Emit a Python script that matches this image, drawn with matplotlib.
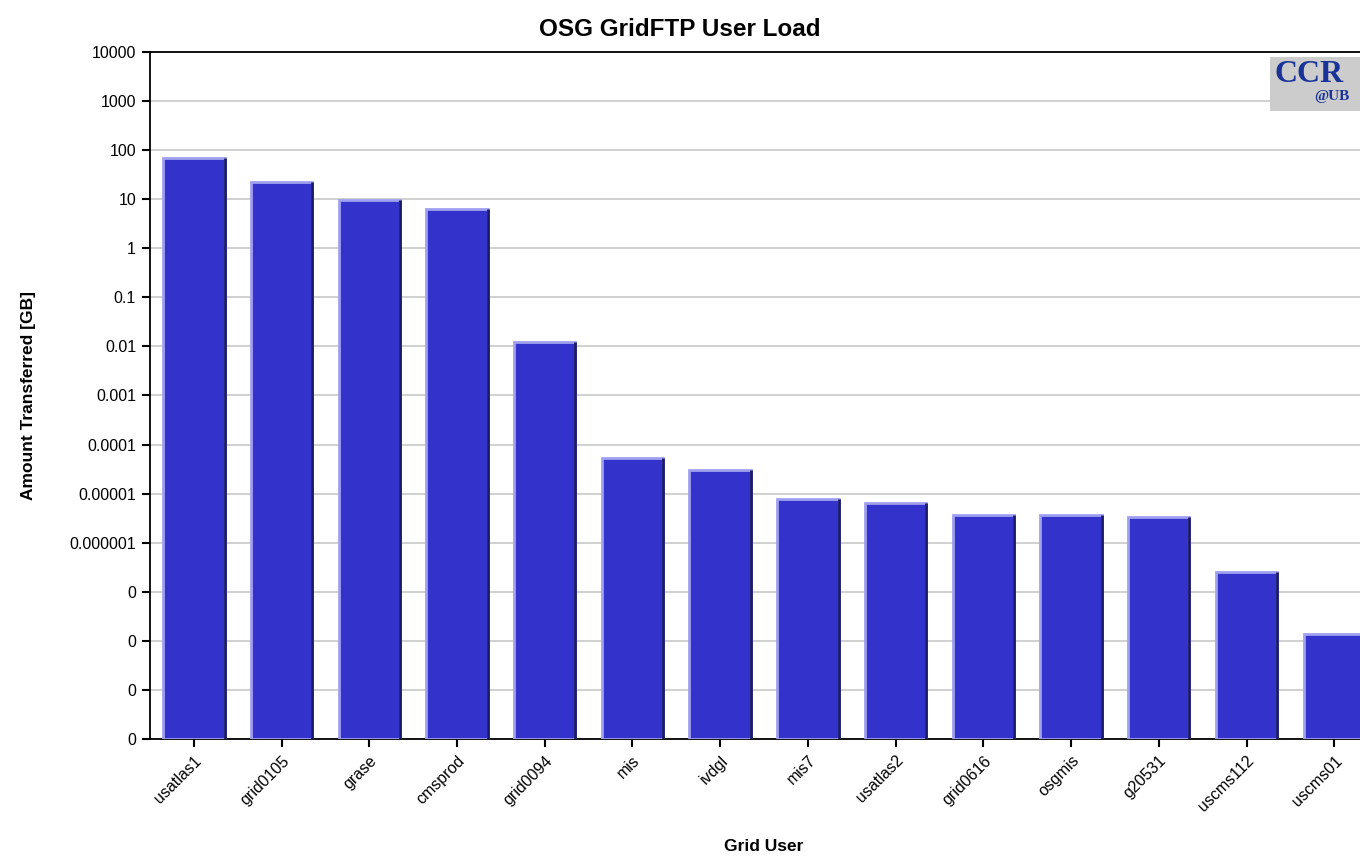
import matplotlib
matplotlib.use("Agg")
import matplotlib.pyplot as plt
import numpy as np

# data
users = ["usatlas1", "grid0105", "grase", "cmsprod", "grid0094", "mis", "ivdgl",
         "mis7", "usatlas2", "grid0616", "osgmis", "g20531", "uscms112", "uscms01"]
amount_gb = [69, 22, 9.6, 6.3, 0.0123, 5.3e-5, 3.0e-5,
             7.8e-6, 6.4e-6, 3.6e-6, 3.6e-6, 3.3e-6, 2.5e-7, 1.4e-8]
ytick_values = [1e4, 1e3, 1e2, 1e1, 1, 0.1, 0.01, 0.001, 1e-4, 1e-5, 1e-6, 1e-7, 1e-8, 1e-9, 1e-10]
ytick_labels = ["10000", "1000", "100", "10", "1", "0.1", "0.01", "0.001", "0.0001",
                "0.00001", "0.000001", "0", "0", "0", "0"]

plt.rcParams['font.family'] = ['Liberation Sans', 'DejaVu Sans']

fig = plt.figure(figsize=(13.6, 8.58), dpi=100)
ax = fig.add_axes([0.1103, 0.1387, 0.903, 0.8007])

x = np.arange(len(users))
width = 0.7
bottom = 1e-10
heights = [v - bottom for v in amount_gb]

ax.bar(x, heights, width=width, bottom=bottom, color="#3333cc",
       edgecolor="#a0a0f0", linewidth=2, zorder=3)
# dark shading on right side of each bar
ax.vlines(x + width / 2, bottom, amount_gb, color="#1a1a66", linewidth=2, zorder=4)

ax.set_yscale("log")
ax.set_ylim(1e-10, 1e4)
ax.set_xlim(-0.5, len(users) - 0.5)
ax.yaxis.set_major_locator(matplotlib.ticker.FixedLocator(ytick_values))
ax.yaxis.set_minor_locator(matplotlib.ticker.NullLocator())
ax.set_yticks(ytick_values)
ax.set_yticklabels(ytick_labels, fontsize=11.5)
ax.set_xticks(x)
ax.set_xticklabels(users, rotation=45, ha="right", rotation_mode="anchor", fontsize=11.5)
ax.tick_params(axis="both", length=6, width=1.5, color="black", pad=4)

ax.grid(axis="y", color="#c8c8c8", linewidth=1.2, zorder=0)
for side in ["left", "top", "bottom"]:
    ax.spines[side].set_linewidth(1.3)
ax.spines["right"].set_visible(False)

ax.set_ylabel("Amount Transferred [GB]", fontsize=12.5, fontweight="bold", labelpad=24)
ax.set_xlabel("Grid User", fontsize=12.5, fontweight="bold", labelpad=18)
fig.text(0.5, 0.966, "OSG GridFTP User Load", ha="center", va="center",
         fontsize=17.5, fontweight="bold")

# CCR logo box
logo = plt.Rectangle((0.934, 0.8706), 0.07, 0.063, transform=fig.transFigure,
                     facecolor="#cccccc", edgecolor="none", zorder=5)
fig.patches.append(logo)
fig.text(0.937, 0.913, "CCR", ha="left", va="center", fontsize=23, color="#1a3399",
         family="Liberation Serif", fontweight="bold", zorder=6)
fig.text(0.966, 0.887, "@UB", ha="left", va="center", fontsize=11, color="#1a3399",
         family="Liberation Serif", fontweight="bold", zorder=6)

fig.savefig("out.png", dpi=100)
